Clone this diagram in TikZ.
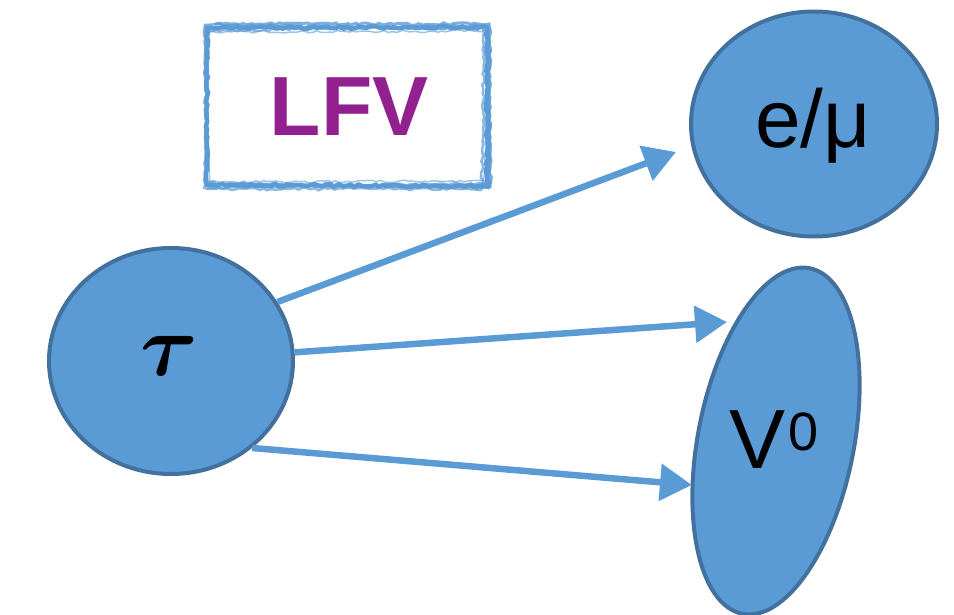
\documentclass[tikz,border=0pt]{standalone}
\usepackage{fontspec}
\setmainfont{Liberation Sans}
\usepackage{bm}
\usepackage{graphicx}
\usetikzlibrary{shapes.geometric,arrows.meta,decorations.pathmorphing}
\definecolor{fillblue}{HTML}{5B9BD5}
\definecolor{edgeblue}{HTML}{41719C}
\definecolor{arrowblue}{HTML}{5B9BD5}
\definecolor{lfvpurple}{HTML}{93208F}
\tikzset{
  particle/.style={ellipse, draw=edgeblue, fill=fillblue, line width=4pt, inner sep=0pt},
  decay/.style={draw=arrowblue, line width=6.5pt, -{Triangle[length=32pt,width=36pt]}},
  sketch/.style={draw=arrowblue, decorate, decoration={random steps, segment length=4pt, amplitude=1.2pt}},
  lbl/.style={inner sep=0pt, text=black}
}
\begin{document}
\begin{tikzpicture}[x=1pt,y=-1pt]
\useasboundingbox (0,0) rectangle (954,615);
% sketchy LFV box
\pgfmathsetseed{7}
\draw[sketch, line width=4.5pt] (207,28) -- (487,27) -- (487,186) -- (207,185) -- cycle;
\draw[sketch, line width=2.5pt, opacity=0.8] (205,25) -- (490,29) -- (489,188) -- (206,183) -- cycle;
\draw[sketch, line width=2pt, opacity=0.7] (209,31) -- (485,25) -- (491,183) -- (204,188) -- cycle;
\draw[sketch, line width=1.5pt, opacity=0.6] (205,32) -- (489,31) -- (484,181) -- (209,182) -- cycle;
\draw[sketch, line width=3pt, opacity=0.8] (215,24) -- (489,24) -- (490,188);
\draw[sketch, line width=2.5pt, opacity=0.7] (207,189) -- (482,189) -- (484,25);
\node[lbl, text=lfvpurple, font=\fontsize{84}{84}\selectfont\bfseries] (lfv) at (349,107) {LFV};
% particles
\node[particle, minimum width=244pt, minimum height=226pt] (tau) at (171,361) {};
\node[lbl] (taut) at (169,356) {\scalebox{8.8}{$\bm{\tau}$}};
\node[particle, minimum width=246pt, minimum height=225pt] (emu) at (814,124) {};
\node[lbl, font=\fontsize{82}{82}\selectfont] (emut) at (813,126) {e/μ};
\node[particle, minimum width=156pt, minimum height=352pt, rotate=-11] (v0) at (776,441) {};
\node[lbl, font=\fontsize{84}{84}\selectfont] (v0t) at (774,440) {V\kern2pt\raisebox{18pt}{\fontsize{54}{54}\selectfont 0}};
% arrow ends
\coordinate (e1) at (676,152);
\coordinate (e2) at (727,322);
\coordinate (e3) at (692,485);
\draw[decay] (tau.29) -- (e1);
\draw[decay] (tau.4) -- (e2);
\draw[decay] (tau.-47) -- (e3);
\end{tikzpicture}
\end{document}
